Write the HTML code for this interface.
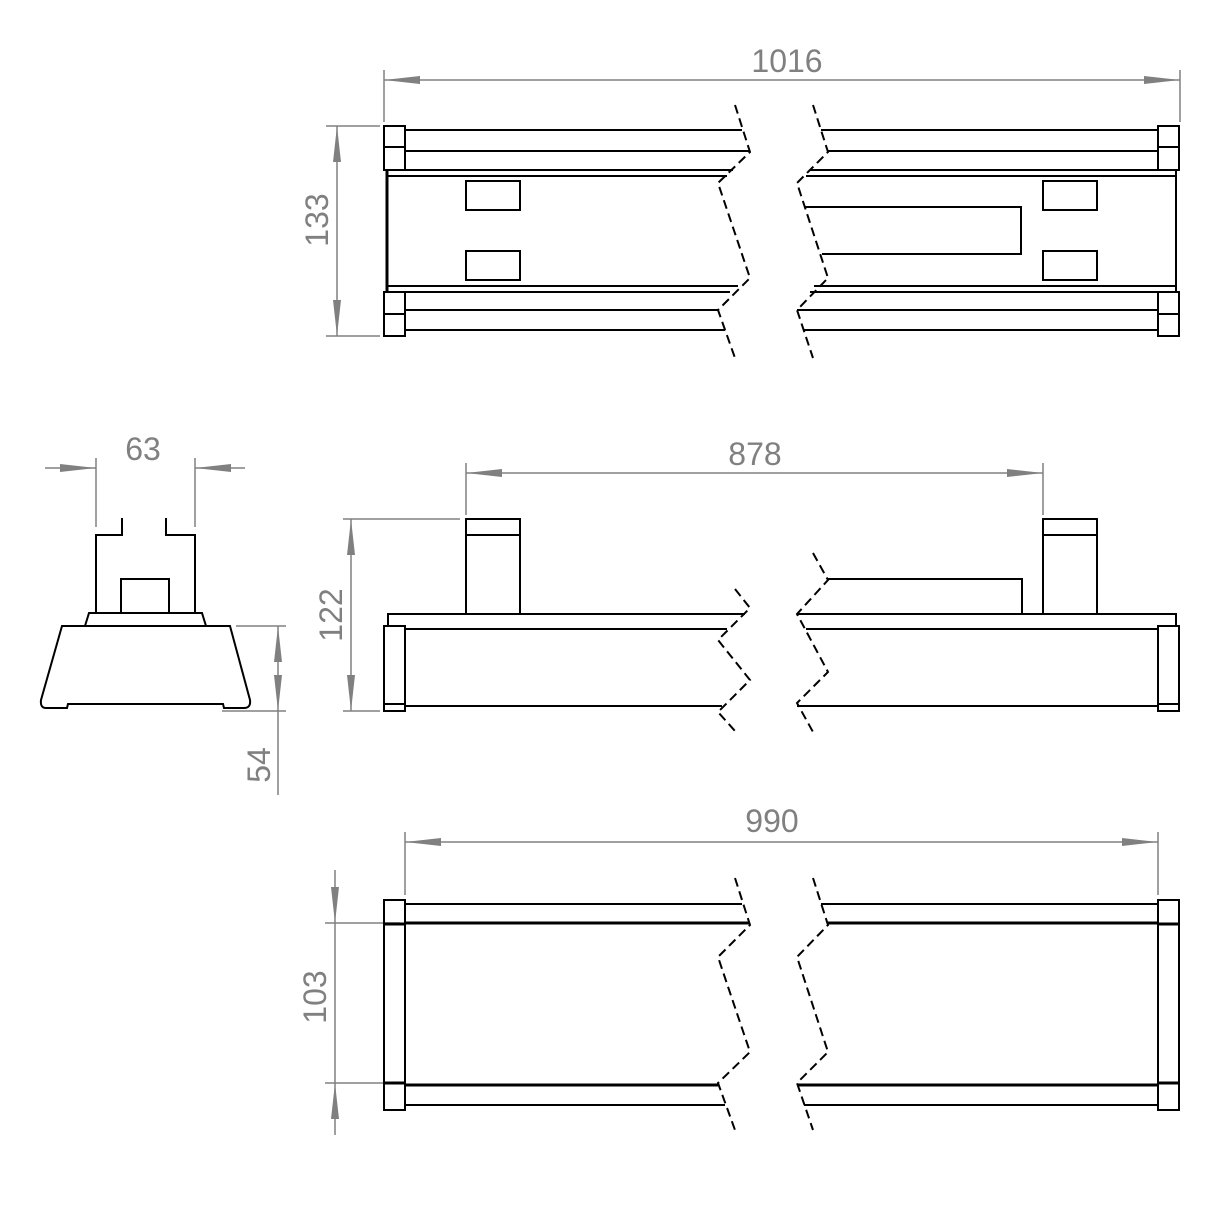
<!DOCTYPE html>
<html><head><meta charset="utf-8"><style>html,body{margin:0;background:#fff}svg{display:block}</style></head><body>
<svg width="1220" height="1220" viewBox="0 0 1220 1220" xmlns="http://www.w3.org/2000/svg">
<defs>
<marker id="a" viewBox="0 0 36 10" refX="36" refY="5" markerWidth="36" markerHeight="10" markerUnits="userSpaceOnUse" orient="auto-start-reverse"><path d="M0,1 L36,5 L0,9 Z" fill="#808080"/></marker>
</defs>
<g stroke="#808080" stroke-width="1.5" fill="none">
<!-- 1016 -->
<line x1="384" y1="70" x2="384" y2="122"/><line x1="1180" y1="70" x2="1180" y2="122"/>
<line x1="384" y1="80" x2="1180" y2="80" marker-start="url(#a)" marker-end="url(#a)"/>
<!-- 133 -->
<line x1="326" y1="126" x2="380" y2="126"/><line x1="326" y1="336" x2="380" y2="336"/>
<line x1="337" y1="126" x2="337" y2="336" marker-start="url(#a)" marker-end="url(#a)"/>
<!-- 878 -->
<line x1="466" y1="463" x2="466" y2="515"/><line x1="1043" y1="463" x2="1043" y2="515"/>
<line x1="466" y1="473" x2="1043" y2="473" marker-start="url(#a)" marker-end="url(#a)"/>
<!-- 122 -->
<line x1="343" y1="519" x2="460" y2="519"/><line x1="343" y1="711" x2="380" y2="711"/>
<line x1="351" y1="519" x2="351" y2="711" marker-start="url(#a)" marker-end="url(#a)"/>
<!-- 63 -->
<line x1="96" y1="458" x2="96" y2="527"/><line x1="195" y1="458" x2="195" y2="527"/>
<line x1="45" y1="468" x2="96" y2="468" marker-end="url(#a)"/>
<line x1="245" y1="468" x2="195" y2="468" marker-end="url(#a)"/>
<!-- 54 -->
<line x1="236" y1="626" x2="286" y2="626"/><line x1="222" y1="711" x2="286" y2="711"/>
<line x1="278" y1="626" x2="278" y2="711" marker-start="url(#a)" marker-end="url(#a)"/>
<line x1="278" y1="711" x2="278" y2="795"/>
<!-- 990 -->
<line x1="405" y1="832" x2="405" y2="895"/><line x1="1158" y1="832" x2="1158" y2="895"/>
<line x1="405" y1="842" x2="1158" y2="842" marker-start="url(#a)" marker-end="url(#a)"/>
<!-- 103 -->
<line x1="325" y1="923" x2="400" y2="923"/><line x1="325" y1="1083" x2="400" y2="1083"/>
<line x1="335" y1="870" x2="335" y2="923" marker-end="url(#a)"/>
<line x1="335" y1="1135" x2="335" y2="1083" marker-end="url(#a)"/>
<line x1="335" y1="923" x2="335" y2="1083"/>
</g>
<g fill="#808080" font-family="Liberation Sans, sans-serif" font-size="32" text-anchor="middle">
<text x="787" y="72">1016</text>
<text x="755" y="465">878</text>
<text x="143" y="460">63</text>
<text x="772" y="832">990</text>
<text transform="translate(328,220) rotate(-90)">133</text>
<text transform="translate(342,615) rotate(-90)">122</text>
<text transform="translate(270,765) rotate(-90)">54</text>
<text transform="translate(326,997) rotate(-90)">103</text>
</g>
<g stroke="#000" stroke-width="2" fill="none">
<!-- TOP VIEW -->
<rect x="384" y="126" width="21" height="21"/><rect x="384" y="147" width="21" height="23"/>
<rect x="384" y="292" width="21" height="22"/><rect x="384" y="314" width="21" height="22"/>
<rect x="1158" y="126" width="21" height="21"/><rect x="1158" y="147" width="21" height="23"/>
<rect x="1158" y="292" width="21" height="22"/><rect x="1158" y="314" width="21" height="22"/>
<line x1="405" y1="130" x2="742" y2="130"/><line x1="405" y1="151" x2="750" y2="151"/>
<line x1="388" y1="170" x2="733" y2="170"/><line x1="388" y1="176" x2="727" y2="176"/>
<line x1="388" y1="286" x2="738" y2="286"/><line x1="405" y1="292" x2="730" y2="292"/>
<line x1="405" y1="310" x2="718" y2="310"/><line x1="405" y1="330" x2="725" y2="330"/>
<line x1="387" y1="170" x2="387" y2="292" stroke-width="3"/>
<line x1="821" y1="130" x2="1158" y2="130"/><line x1="828" y1="151" x2="1158" y2="151"/>
<line x1="810" y1="170" x2="1176" y2="170"/><line x1="806" y1="176" x2="1176" y2="176"/>
<line x1="814" y1="286" x2="1176" y2="286"/><line x1="810" y1="292" x2="1158" y2="292"/>
<line x1="797" y1="310" x2="1158" y2="310"/><line x1="804" y1="330" x2="1158" y2="330"/>
<line x1="1176" y1="170" x2="1176" y2="292"/>
<polyline points="804,207 1021,207 1021,254 822,254"/>
<rect x="466" y="181" width="54" height="29"/><rect x="466" y="251" width="54" height="29"/>
<rect x="1043" y="181" width="54" height="29"/><rect x="1043" y="251" width="54" height="29"/>
<!-- SIDE VIEW -->
<rect x="466" y="519" width="54" height="95"/><line x1="466" y1="535" x2="520" y2="535"/>
<rect x="1043" y="519" width="54" height="95"/><line x1="1043" y1="535" x2="1097" y2="535"/>
<polyline points="388,626 388,614 745,614"/>
<polyline points="797,614 1176,614 1176,626"/>
<rect x="384" y="626" width="21" height="85"/><line x1="384" y1="704" x2="405" y2="704"/>
<rect x="1158" y="626" width="21" height="85"/><line x1="1158" y1="704" x2="1179" y2="704"/>
<line x1="405" y1="629" x2="727" y2="629"/><line x1="405" y1="706" x2="722" y2="706"/>
<line x1="806" y1="629" x2="1158" y2="629"/><line x1="797" y1="706" x2="1158" y2="706"/>
<polyline points="828,579 1022,579 1022,614"/>
<!-- END VIEW -->
<polyline points="96,613 96,535 122,535 122,518"/>
<polyline points="195,613 195,535 166,535 166,518"/>
<rect x="121" y="579" width="48" height="34"/>
<polygon points="89,613 202,613 206,626 85,626"/>
<path d="M62,626 L230,626 L250,700 Q251,708 244,708 L224,708 L223,704 L68,704 L67,708 L46,708 Q40,708 41,700 Z"/>
<!-- BOTTOM VIEW -->
<rect x="384" y="900" width="21" height="210"/><line x1="384" y1="924" x2="405" y2="924" stroke-width="3"/><line x1="384" y1="1083" x2="405" y2="1083" stroke-width="3"/>
<rect x="1158" y="900" width="21" height="210"/><line x1="1158" y1="924" x2="1179" y2="924" stroke-width="3"/><line x1="1158" y1="1083" x2="1179" y2="1083" stroke-width="3"/>
<line x1="405" y1="904" x2="742" y2="904"/><line x1="405" y1="923" x2="750" y2="923" stroke-width="3"/>
<line x1="405" y1="1085" x2="718" y2="1085" stroke-width="3"/><line x1="405" y1="1105" x2="725" y2="1105"/>
<line x1="821" y1="904" x2="1158" y2="904"/><line x1="828" y1="923" x2="1158" y2="923" stroke-width="3"/>
<line x1="797" y1="1085" x2="1158" y2="1085" stroke-width="3"/><line x1="804" y1="1105" x2="1158" y2="1105"/>
</g>
<g stroke="#000" stroke-width="2" fill="none" stroke-dasharray="9,5">
<polyline points="735,105 750,152 718,183 750,278 718,310 735,358"/>
<polyline points="813,105 828,152 797,183 828,278 797,310 813,358"/>
<polyline points="735,589 750,608 718,640 750,680 718,712 735,731"/>
<polyline points="813,553 828,580 797,614 828,672 797,703 813,732"/>
<polyline points="735,878 750,925 718,957 750,1052 718,1083 735,1130"/>
<polyline points="813,878 828,925 797,957 828,1052 797,1083 813,1130"/>
</g>
</svg>
</body></html>
